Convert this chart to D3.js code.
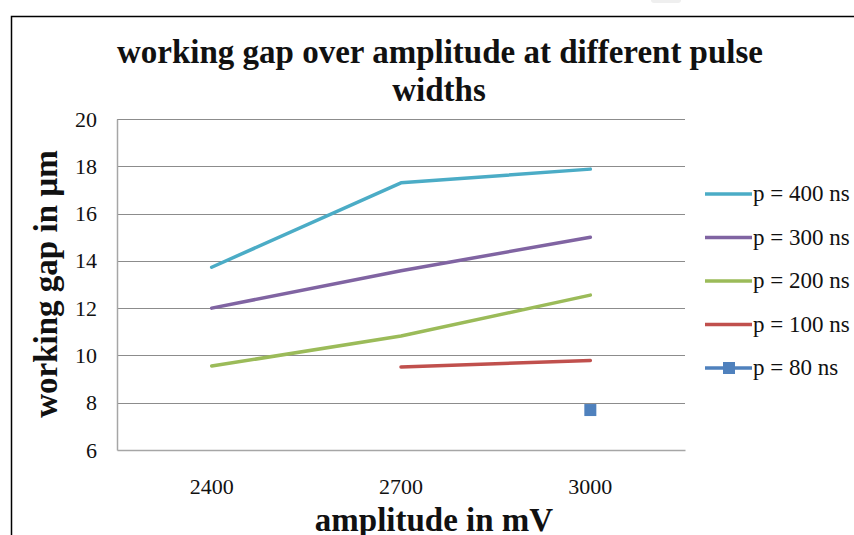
<!DOCTYPE html>
<html>
<head>
<meta charset="utf-8">
<script src="https://cdn.jsdelivr.net/npm/d3@7"></script>
<style>
  body { margin: 0; background: #fff; }
  svg { display: block; font-family: "Liberation Serif", "DejaVu Serif", serif; }
</style>
</head>
<body>
<div id="chart"></div>
<script>
// data
const amplitudes = ["2400", "2700", "3000"];
const yTicks = [6, 8, 10, 12, 14, 16, 18, 20];
const p400 = [13.73, 17.3, 17.88];
const p300 = [12.0, 13.58, 15.0];
const p200 = [9.55, 10.82, 12.55];
const p100 = [null, 9.51, 9.79];
const p80 = [null, null, 7.69];
const seriesNames = ["p = 400 ns", "p = 300 ns", "p = 200 ns", "p = 100 ns", "p = 80 ns"];
const seriesColors = ["#4bacc6", "#8064a2", "#9bbb59", "#c0504d", "#4f81bd"];

const W = 854, H = 535;
const plot = {left: 117, top: 119, right: 685, bottom: 450};

const svg = d3.select("#chart").append("svg")
  .attr("width", W)
  .attr("height", H);

// outer chart frame (only top and left edges are inside the window)
svg.append("path")
  .attr("d", "M11.5,540 L11.5,16.5 L860,16.5")
  .attr("fill", "none")
  .attr("stroke", "#000")
  .attr("stroke-width", 1.5);

// little grey tab above the frame
svg.append("rect")
  .attr("x", 651).attr("y", -4)
  .attr("width", 30).attr("height", 7)
  .attr("rx", 3)
  .attr("fill", "#efefef");

// SCALES
const xScale = d3.scaleBand().domain(amplitudes).range([plot.left, plot.right]);
const yScale = d3.scaleLinear().domain([6, 20]).range([plot.bottom, plot.top]);

// grid lines
svg.append("g")
  .selectAll("line")
  .data(yTicks.filter(d => d > 6))
  .join("line")
  .attr("x1", plot.left)
  .attr("x2", plot.right)
  .attr("y1", d => Math.round(yScale(d)) + 0.5)
  .attr("y2", d => Math.round(yScale(d)) + 0.5)
  .attr("stroke", "#8c8c8c")
  .attr("stroke-width", 1);

// AXES
const yAxis = d3.axisLeft(yScale).tickValues(yTicks).tickSize(0).tickPadding(20);
const gy = svg.append("g")
  .attr("transform", "translate(" + plot.left + ",0)")
  .call(yAxis);
gy.select(".domain").attr("stroke", "#a6a6a6").attr("stroke-width", 1.5);
gy.selectAll("text")
  .attr("font-size", 22)
  .attr("fill", "#111")
  .attr("font-family", "Liberation Serif, serif");

const xAxis = d3.axisBottom(xScale).tickSize(0).tickPadding(28);
const gx = svg.append("g")
  .attr("transform", "translate(0," + plot.bottom + ")")
  .call(xAxis);
gx.select(".domain").attr("stroke", "#a6a6a6").attr("stroke-width", 1.5);
gx.selectAll("text")
  .attr("font-size", 22)
  .attr("fill", "#111")
  .attr("font-family", "Liberation Serif, serif");

// SERIES
const allSeries = [p400, p300, p200, p100, p80];
const line = d3.line()
  .defined(d => d.v != null)
  .x(d => xScale(d.a) + xScale.bandwidth() / 2)
  .y(d => yScale(d.v));

allSeries.forEach((vals, i) => {
  const pts = amplitudes.map((a, j) => ({a: a, v: vals[j]}));
  svg.append("path")
    .datum(pts)
    .attr("d", line)
    .attr("fill", "none")
    .attr("stroke", seriesColors[i])
    .attr("stroke-width", 3.5)
    .attr("stroke-linecap", "round")
    .attr("stroke-linejoin", "round");
});

// p = 80 ns has a square marker
svg.append("g")
  .selectAll("rect")
  .data(amplitudes.map((a, j) => ({a: a, v: p80[j]})).filter(d => d.v != null))
  .join("rect")
  .attr("x", d => xScale(d.a) + xScale.bandwidth() / 2 - 6)
  .attr("y", d => yScale(d.v) - 6)
  .attr("width", 12)
  .attr("height", 12)
  .attr("fill", seriesColors[4]);

// LEGEND
const legend = svg.append("g");
seriesNames.forEach((name, i) => {
  const y = 194 + i * 43.5;
  legend.append("line")
    .attr("x1", 705).attr("x2", 752)
    .attr("y1", y).attr("y2", y)
    .attr("stroke", seriesColors[i])
    .attr("stroke-width", 3.5);
  if (i === 4) {
    legend.append("rect")
      .attr("x", 723).attr("y", y - 6)
      .attr("width", 12).attr("height", 12)
      .attr("fill", seriesColors[i]);
  }
  legend.append("text")
    .attr("x", 753)
    .attr("y", y + 7)
    .attr("font-size", 23)
    .attr("fill", "#111")
    .text(name);
});

// TITLES
const title = svg.append("text")
  .attr("text-anchor", "middle")
  .attr("font-weight", "bold")
  .attr("font-size", 33)
  .attr("fill", "#111");
title.append("tspan").attr("x", 440).attr("y", 63).text("working gap over amplitude at different pulse");
title.append("tspan").attr("x", 439).attr("y", 101).text("widths");

svg.append("text")
  .attr("text-anchor", "middle")
  .attr("font-weight", "bold")
  .attr("font-size", 33)
  .attr("fill", "#111")
  .attr("transform", "translate(57,284) rotate(-90)")
  .text("working gap in µm");

svg.append("text")
  .attr("x", 434)
  .attr("y", 531)
  .attr("text-anchor", "middle")
  .attr("font-weight", "bold")
  .attr("font-size", 33)
  .attr("fill", "#111")
  .text("amplitude in mV");
</script>
</body>
</html>
